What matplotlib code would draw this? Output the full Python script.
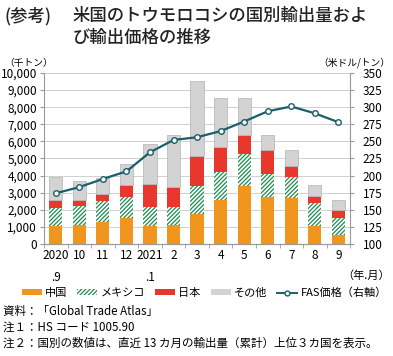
import matplotlib
matplotlib.use('Agg')
import numpy as np
from matplotlib import pyplot as plt
from matplotlib.patches import Patch
from matplotlib.lines import Line2D

plt.rcParams['font.family'] = ['Noto Sans CJK JP', 'DejaVu Sans']
plt.rcParams['hatch.linewidth'] = 0.9

months = ['2020\n.9', '10', '11', '12', '2021\n.1', '2', '3', '4', '5', '6', '7', '8', '9']
china = [1070, 1090, 1290, 1520, 1070, 1090, 1750, 2550, 3410, 2730, 2690, 1070, 490]
mexico = [1030, 1150, 1190, 1210, 1110, 1070, 1660, 1660, 1830, 1360, 1250, 1330, 1050]
japan = [470, 330, 440, 720, 1330, 1190, 1740, 1460, 1110, 1430, 640, 430, 450]
others = [1370, 1130, 940, 1230, 2340, 3000, 4360, 2870, 2190, 850, 920, 620, 580]
fas_price = [174, 183, 195, 206, 234, 252, 256, 265, 279, 294, 301, 291, 278]

C_CHINA = '#F0961E'
C_MEX = '#1E8C50'
C_JAPAN = '#E8382E'
C_OTHER = '#D3D3D3'
C_LINE = '#1B5E6B'
HATCH = '////////'

fig = plt.figure(figsize=(3.93, 3.56), dpi=100)
ax = fig.add_axes([0.112, 0.315, 0.779, 0.480])
ax2 = ax.twinx()

x = np.arange(len(months))
w = 0.56
b1 = np.array(china)
b2 = b1 + np.array(mexico)
b3 = b2 + np.array(japan)
ax.bar(x, china, w, color=C_CHINA, zorder=2)
ax.bar(x, mexico, w, bottom=b1, color='white', edgecolor=C_MEX, hatch=HATCH, linewidth=0, zorder=2)
ax.bar(x, japan, w, bottom=b2, color=C_JAPAN, zorder=2)
ax.bar(x, others, w, bottom=b3, color=C_OTHER, edgecolor='#BBBBBB', linewidth=0.6, zorder=2)

ax.set_xlim(-0.5, len(months) - 0.5)
ax.set_ylim(0, 10000)
ax.set_yticks(np.arange(0, 10001, 1000))
ax.set_yticklabels(['{:,}'.format(v) for v in range(0, 10001, 1000)])
ax.grid(axis='y', color='#D0D0D0', linewidth=0.7, zorder=0)
ax.set_axisbelow(True)
ax.set_xticks(x)
ax.set_xticklabels(months, fontsize=8.5, linespacing=1.9, va='top')
ax.set_xticks(np.arange(-0.5, len(months), 1), minor=True)
ax.tick_params(axis='x', which='major', length=0, pad=4)
ax.tick_params(axis='x', which='minor', length=3, color='#999999')
ax.tick_params(axis='y', labelsize=8.5, length=3, color='#999999', pad=2)

ax2.plot(x, fas_price, color=C_LINE, linewidth=1.6, marker='o', markersize=4,
         markerfacecolor='white', markeredgecolor=C_LINE, markeredgewidth=1, zorder=5)
ax2.set_ylim(100, 350)
ax2.set_yticks(np.arange(100, 351, 25))
ax2.tick_params(axis='y', labelsize=8.5, length=3, color='#999999', pad=6)

for a in (ax, ax2):
    a.spines['top'].set_visible(False)
    a.spines['left'].set_visible(False)
    a.spines['right'].set_color('#999999')
    a.spines['bottom'].set_color('#999999')
ax.spines['right'].set_visible(False)
ax2.spines['left'].set_color('#999999')
ax2.spines['left'].set_visible(True)

# titles
tkw = dict(fontsize=12.5, fontweight='medium', va='center', ha='left', color='#222222')
fig.text(5 / 393, 1 - 16 / 356, '(参考)', **tkw)
fig.text(73 / 393, 1 - 16 / 356, '米国のトウモロコシの国別輸出量およ', **tkw)
fig.text(73 / 393, 1 - 38 / 356, 'び輸出価格の推移', **tkw)
fig.text(4 / 393, 1 - 63 / 356, '（千トン）', fontsize=7, va='center', ha='left')
fig.text(390 / 393, 1 - 63 / 356, '（米ドル/トン）', fontsize=7, va='center', ha='right')
fig.text(390 / 393, 1 - 276 / 356, '（年.月）', fontsize=8, va='center', ha='right')

handles = [Patch(facecolor=C_CHINA, label='中国'),
           Patch(facecolor='white', edgecolor=C_MEX, hatch=HATCH, linewidth=0, label='メキシコ'),
           Patch(facecolor=C_JAPAN, label='日本'),
           Patch(facecolor=C_OTHER, label='その他'),
           Line2D([], [], color=C_LINE, marker='o', markersize=3.5, markerfacecolor='white',
                  markeredgecolor=C_LINE, linewidth=1.4, label='FAS価格（右軸）')]
fig.legend(handles=handles, loc='center', bbox_to_anchor=(0.52, 1 - 293 / 356), ncol=5,
           frameon=False, fontsize=8, handlelength=1.8, handleheight=0.45, handletextpad=0.3,
           columnspacing=0.9)

notes = ['資料：「Global Trade Atlas」',
         '注１：HS コード 1005.90',
         '注２：国別の数値は、直近 13 カ月の輸出量（累計）上位３カ国を表示。']
for i, t in enumerate(notes):
    fig.text(3 / 393, 1 - (312 + i * 15.5) / 356, t, fontsize=8.3, va='center', ha='left')

fig.savefig('out.png', dpi=100)
